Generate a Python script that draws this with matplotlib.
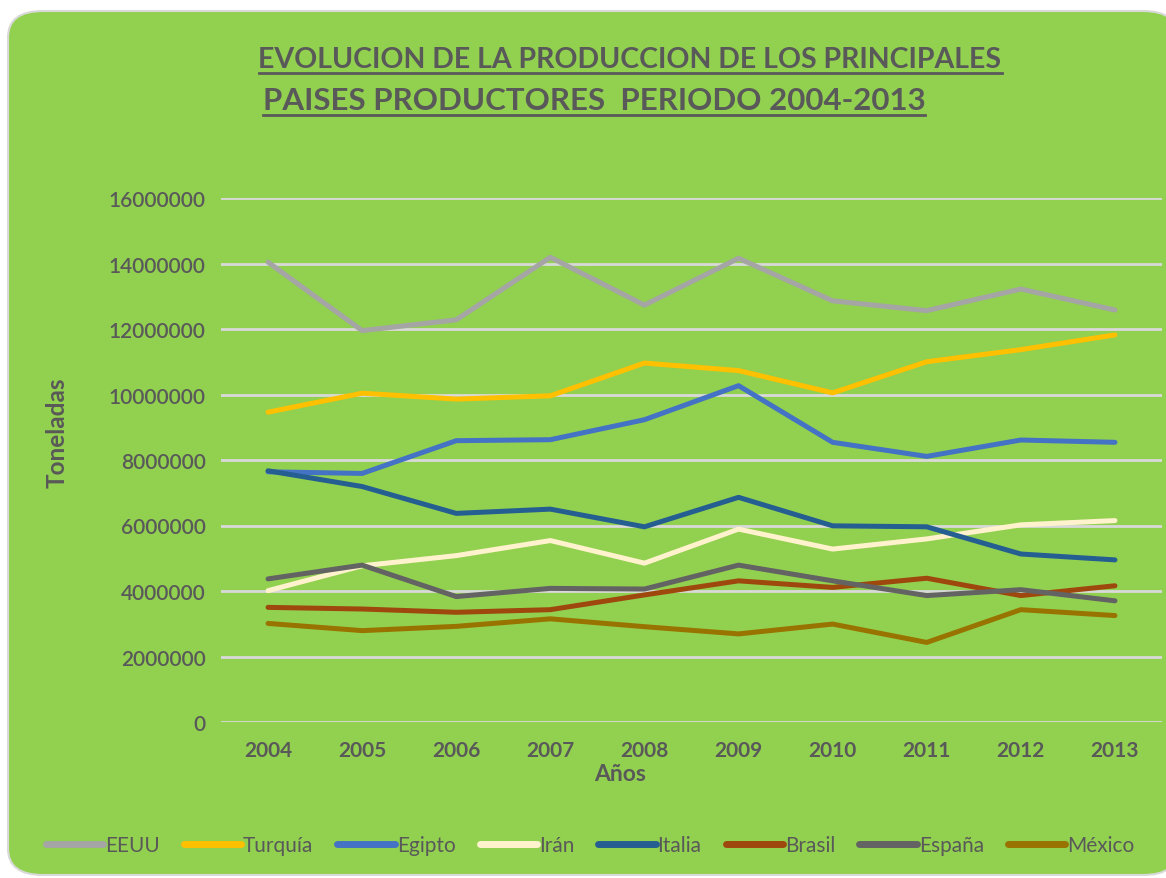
import matplotlib
matplotlib.use("Agg")
import matplotlib.pyplot as plt
from matplotlib.patches import FancyBboxPatch
from matplotlib.lines import Line2D

years = [2004, 2005, 2006, 2007, 2008, 2009, 2010, 2011, 2012, 2013]
eeuu = [14040000, 11950000, 12280000, 14190000, 12730000, 14160000, 12860000, 12560000, 13220000, 12580000]
turquia = [9460000, 10040000, 9860000, 9960000, 10960000, 10730000, 10050000, 11000000, 11370000, 11820000]
egipto = [7640000, 7590000, 8590000, 8620000, 9230000, 10270000, 8540000, 8110000, 8610000, 8540000]
iran = [4010000, 4770000, 5080000, 5540000, 4850000, 5890000, 5280000, 5590000, 6020000, 6150000]
italia = [7670000, 7190000, 6370000, 6500000, 5960000, 6860000, 5990000, 5960000, 5130000, 4950000]
brasil = [3500000, 3450000, 3350000, 3430000, 3880000, 4310000, 4110000, 4390000, 3860000, 4160000]
espana = [4370000, 4790000, 3830000, 4080000, 4060000, 4790000, 4310000, 3860000, 4040000, 3700000]
mexico = [3010000, 2790000, 2920000, 3150000, 2910000, 2690000, 2990000, 2430000, 3430000, 3250000]

names = ["EEUU", "Turquía", "Egipto", "Irán", "Italia", "Brasil", "España", "México"]
series = [eeuu, turquia, egipto, iran, italia, brasil, espana, mexico]
colors = ["#A5A5A5", "#FFC000", "#4472C4", "#FFF2CC", "#255E91", "#9E480E", "#636363", "#997300"]
yticks = [0, 2000000, 4000000, 6000000, 8000000, 10000000, 12000000, 14000000, 16000000]

plt.rcParams['font.family'] = ['Lato', 'DejaVu Sans']
txt = "#595959"

fig = plt.figure(figsize=(11.66, 8.79), dpi=100)
fig.patch.set_facecolor("white")
W, H = 1166, 879
bg = FancyBboxPatch((8 / W, 3 / H), 1170 / W, 864 / H,
                    boxstyle="round,pad=0,rounding_size=0.03",
                    transform=fig.transFigure, facecolor="#92D050",
                    edgecolor="#D9D9D9", linewidth=1.5, zorder=-5)
fig.patches.append(bg)

ax = fig.add_axes([221 / W, 1 - 723 / H, 941 / W, 524 / H])
ax.set_zorder(2)
ax.set_facecolor("none")
for s in ax.spines.values():
    s.set_visible(False)
ax.set_xlim(years[0] - 0.5, years[-1] + 0.5)
ax.set_ylim(0, 16000000)
ax.set_yticks(yticks)
ax.set_yticklabels([str(v) for v in yticks])
ax.set_xticks(years)
ax.set_xticklabels([str(y) for y in years])
ax.yaxis.grid(True, color="#D9D9D9", linewidth=2)
ax.set_axisbelow(True)
ax.tick_params(axis="both", length=0, labelsize=15, labelcolor=txt)
ax.tick_params(axis="y", pad=11)
ax.tick_params(axis="x", pad=13)
for lab in ax.get_xticklabels():
    lab.set_fontweight("bold")
for lab in ax.get_yticklabels():
    lab.set_fontweight("semibold")

for name, vals, c in zip(names, series, colors):
    ax.plot(years, vals, color=c, linewidth=3.6, label=name, solid_capstyle="round")

ax.set_xlabel("Años", fontsize=16.5, fontweight="bold", color=txt, va="center")
ax.xaxis.set_label_coords((620 - 221) / 941, (723 - 775) / 524)
ax.set_ylabel("Toneladas", fontsize=17.5, fontweight="bold", color=txt, va="center")
ax.yaxis.set_label_coords((57 - 221) / 941, (723 - 433) / 524)

t1 = fig.text(630 / W, 1 - 60 / H, "EVOLUCION DE LA PRODUCCION DE LOS PRINCIPALES",
              ha="center", va="center", fontsize=20.5, fontweight="bold", color=txt)
t2 = fig.text(594 / W, 1 - 101 / H, "PAISES PRODUCTORES  PERIODO 2004-2013",
              ha="center", va="center", fontsize=22.5, fontweight="bold", color=txt)

leg = fig.legend(loc="center", bbox_to_anchor=(590 / W, 1 - 846 / H), ncol=8,
                 frameon=False, fontsize=15, handlelength=2.75, handletextpad=0.1,
                 columnspacing=1.15)
for t in leg.get_texts():
    t.set_color(txt)
for h in leg.get_lines():
    h.set_linewidth(5)

fig.canvas.draw()
r = fig.canvas.get_renderer()
for t in (t1, t2):
    bb = t.get_window_extent(r)
    yy = (bb.y0 - 1) / H
    fig.add_artist(Line2D([bb.x0 / W, bb.x1 / W], [yy, yy], color=txt, linewidth=2,
                          transform=fig.transFigure))

fig.savefig("out.png", dpi=100, facecolor="white")
